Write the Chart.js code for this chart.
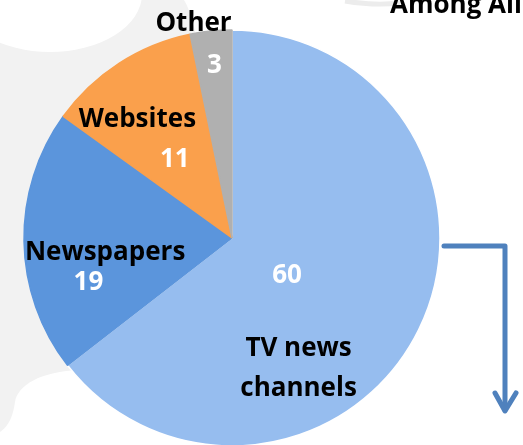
<!DOCTYPE html>
<html>
<head>
<meta charset="utf-8">
<script src="https://cdn.jsdelivr.net/npm/chart.js@4.4.1/dist/chart.umd.min.js"></script>
<style>
  html, body { margin: 0; padding: 0; background: #fff; overflow: hidden; }
  #wrap { width: 523px; height: 445px; }
</style>
</head>
<body>
<div id="wrap"><canvas id="myChart"></canvas></div>
<script>
const categories = ['TV news channels', 'Newspapers', 'Websites', 'Other'];
const shares = [60, 19, 11, 3];
const sliceColors = ['#96bdef', '#5b95dc', '#faa04c', '#b0b0b0'];

// name lines and value spot per slice, as fractions of the radius from the pie centre
const labelLines = [['TV news', 'channels'], ['Newspapers'], ['Websites'], ['Other']];
const namePos = [[0.32, 0.565], [-0.61, 0.105], [-0.455, -0.535], [-0.185, -0.995]];
const valuePos = [[0.265, 0.215], [-0.69, 0.25], [-0.275, -0.34], [-0.085, -0.795]];

const LABEL_FONT = 'bold 26px "Open Sans"';

const backdrop = {
  id: 'backdrop',
  beforeDraw(chart) {
    const ctx = chart.ctx;
    ctx.save();
    ctx.fillStyle = '#ffffff';
    ctx.fillRect(0, 0, chart.width, chart.height);

    // grey swoosh on the left, mostly hidden behind the pie
    ctx.fillStyle = '#f2f2f2';
    ctx.beginPath();
    ctx.moveTo(0, 0);
    ctx.lineTo(184, 0);
    ctx.bezierCurveTo(190, 10, 200, 30, 232, 238);
    ctx.lineTo(78, 370);
    ctx.bezierCurveTo(40, 372, 18, 385, 15, 402);
    ctx.bezierCurveTo(13, 415, 10, 425, 0, 432);
    ctx.closePath();
    ctx.fill();

    ctx.fillStyle = '#ffffff';
    ctx.beginPath();
    ctx.ellipse(50, -6, 92, 58, 0, 0, Math.PI * 2);
    ctx.fill();

    // faint arc near the top right
    ctx.strokeStyle = '#ececec';
    ctx.lineWidth = 5;
    ctx.beginPath();
    ctx.moveTo(345, 1);
    ctx.quadraticCurveTo(375, 6, 400, 3);
    ctx.stroke();
    ctx.restore();
  },
  afterDraw(chart) {
    const ctx = chart.ctx;
    const arcs = chart.getDatasetMeta(0).data;
    ctx.save();
    ctx.font = LABEL_FONT;
    ctx.textAlign = 'center';
    ctx.textBaseline = 'alphabetic';
    arcs.forEach((arc, i) => {
      const r = arc.outerRadius;
      ctx.fillStyle = '#000000';
      labelLines[i].forEach((line, j) => {
        ctx.fillText(line, arc.x + namePos[i][0] * r, arc.y + namePos[i][1] * r + j * 40);
      });
      ctx.fillStyle = '#ffffff';
      ctx.fillText(String(shares[i]), arc.x + valuePos[i][0] * r, arc.y + valuePos[i][1] * r);
    });

    // heading running off the top edge
    ctx.fillStyle = '#000000';
    ctx.textAlign = 'left';
    ctx.fillText('Among All', 390, 13);

    // elbow arrow pointing down
    ctx.strokeStyle = '#4f81bd';
    ctx.lineWidth = 5;
    ctx.lineCap = 'round';
    ctx.lineJoin = 'round';
    ctx.beginPath();
    ctx.moveTo(444, 246);
    ctx.lineTo(505, 246);
    ctx.lineTo(505, 410);
    ctx.stroke();
    ctx.beginPath();
    ctx.moveTo(495, 393);
    ctx.lineTo(505, 411);
    ctx.lineTo(516, 393);
    ctx.stroke();
    ctx.restore();
  }
};

const data = {
  labels: categories,
  datasets: [{
    data: shares,
    backgroundColor: sliceColors,
    borderColor: ['#ffffff', '#5b95dc', '#faa04c', '#b0b0b0'],
    borderWidth: 1.5,
    clip: false
  }]
};

const config = {
  type: 'pie',
  data: data,
  options: {
    responsive: true,
    maintainAspectRatio: false,
    animation: false,
    radius: 208,
    layout: { padding: { left: 24, right: 83, top: 31, bottom: 0 } },
    plugins: {
      legend: { display: false },
      tooltip: { enabled: false }
    }
  },
  plugins: [backdrop]
};

const myChart = new Chart(document.getElementById('myChart'), config);
</script>
</body>
</html>
